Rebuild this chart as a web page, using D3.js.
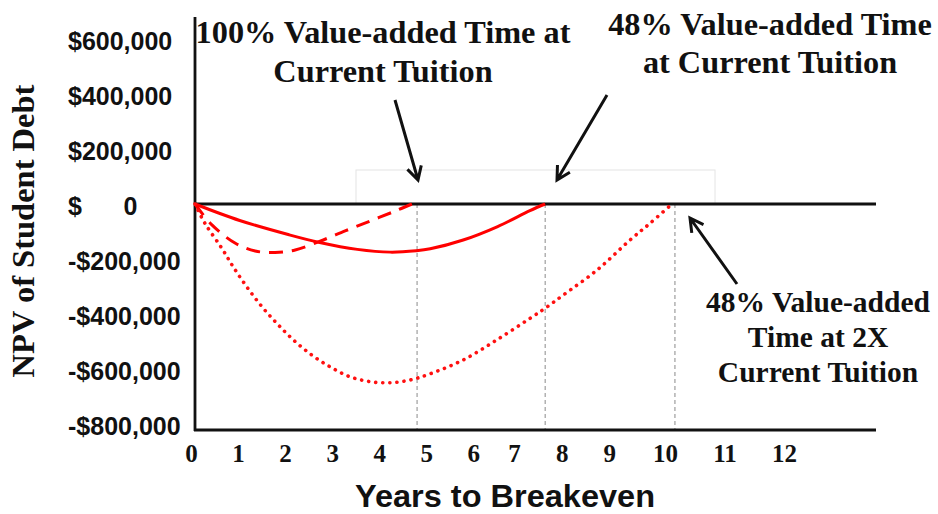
<!DOCTYPE html>
<html lang="en">
<head>
    <meta charset="UTF-8">
    <title>NPV of Student Debt vs Years to Breakeven</title>
    <script src="https://d3js.org/d3.v7.min.js"></script>
    <style>
        body { margin: 0; background: #fff; }
        .serif { font-family: "Liberation Serif", "Times New Roman", serif; font-weight: bold; fill: #111; }
        .sans { font-family: "Liberation Sans", Arial, sans-serif; fill: #111; }
    </style>
</head>
<body>
    <svg width="938" height="514"></svg>
    <script>
        const width = 938, height = 514;

        // data (years, NPV in $)
        const xTicks = [0, 1, 2, 3, 4, 5, 6, 7, 8, 9, 10, 11, 12];
        const yTicks = [600000, 400000, 200000, 0, -200000, -400000, -600000, -800000];

        const solid100 = [[0, 0], [0.95, -60000], [2.0, -112000], [2.65, -140000], [3.45, -165000],
            [4.15, -175000], [4.7, -170000], [5.0, -163000], [5.7, -131000], [6.5, -82000],
            [7.25, -24000], [7.57, 0]];
        const dashed48 = [[0, 0], [0.36, -76000], [0.85, -142000], [1.28, -171000], [1.7, -176000],
            [2.13, -167000], [2.66, -135000], [3.19, -98000], [3.72, -62000], [4.25, -26000], [4.61, 0]];
        const dotted2x = [[0, 0], [0.21, -70000], [0.57, -161000], [0.81, -228000], [1.1, -301000],
            [1.42, -373000], [1.74, -434000], [2.09, -494000], [2.48, -549000], [2.87, -592000],
            [3.29, -628000], [3.72, -646000], [4.14, -650000], [4.57, -640000], [4.99, -618000],
            [5.7, -567000], [6.48, -494000], [7.25, -416000], [7.57, -379000], [7.95, -331000],
            [8.66, -240000], [9.3, -131000], [9.66, -70000], [10.05, 0]];
        const breakevens = [4.72, 7.57, 10.1];

        const svg = d3.select("svg");

        // the original axis is hand-spaced, so a piecewise scale follows its labels
        const x = d3.scaleLinear()
            .domain([0, 6, 7, 9, 10, 12])
            .range([195, 477.3, 518, 613.3, 669, 788]);
        const y = d3.scaleLinear()
            .domain([-800000, 600000])
            .range([424, 39]);

        const plotLeft = 195, plotRight = 876, plotTop = 17, plotBottom = 430;

        // faint box behind the arrows
        svg.append("rect")
            .attr("x", 356).attr("y", 170)
            .attr("width", 359).attr("height", y(0) - 170)
            .attr("fill", "none")
            .attr("stroke", "#e4e4e4")
            .attr("stroke-width", 1);

        // breakeven guide lines
        svg.selectAll(".guide")
            .data(breakevens)
            .join("line")
            .attr("class", "guide")
            .attr("x1", d => x(d)).attr("x2", d => x(d))
            .attr("y1", y(0)).attr("y2", plotBottom)
            .attr("stroke", "#8a8a8a")
            .attr("stroke-width", 1)
            .attr("stroke-dasharray", "4,3");

        // frame and zero line
        svg.append("line")
            .attr("x1", plotLeft).attr("x2", plotLeft).attr("y1", plotTop).attr("y2", plotBottom + 1)
            .attr("stroke", "#111").attr("stroke-width", 2.8);
        svg.append("line")
            .attr("x1", plotLeft - 1).attr("x2", plotRight).attr("y1", plotBottom).attr("y2", plotBottom)
            .attr("stroke", "#111").attr("stroke-width", 2.8);
        svg.append("line")
            .attr("x1", plotLeft).attr("x2", plotRight).attr("y1", y(0)).attr("y2", y(0))
            .attr("stroke", "#111").attr("stroke-width", 3);

        // curves
        const line = d3.line()
            .x(d => x(d[0]))
            .y(d => y(d[1]))
            .curve(d3.curveCatmullRom);

        svg.append("path")
            .datum(solid100)
            .attr("d", line)
            .attr("fill", "none")
            .attr("stroke", "#ff0000")
            .attr("stroke-width", 3);

        svg.append("path")
            .datum(dashed48)
            .attr("d", line)
            .attr("fill", "none")
            .attr("stroke", "#ff0000")
            .attr("stroke-width", 3)
            .attr("stroke-dasharray", "14,9");

        svg.append("path")
            .datum(dotted2x)
            .attr("d", line)
            .attr("fill", "none")
            .attr("stroke", "#ff1010")
            .attr("stroke-width", 3.6)
            .attr("stroke-linecap", "round")
            .attr("stroke-dasharray", "0.1,7");

        // y axis labels (left aligned, like the original)
        const fmt = d3.format(",");
        const yAxis = svg.append("g")
            .attr("transform", `translate(${plotLeft},0)`)
            .call(d3.axisLeft(y)
                .tickValues(yTicks)
                .tickSize(0)
                .tickFormat(v => v > 0 ? "$" + fmt(v) : v < 0 ? "-$" + fmt(-v) : "$\u2007\u2007\u20070"));
        yAxis.select(".domain").remove();
        yAxis.selectAll("text")
            .attr("x", 68 - plotLeft)
            .attr("dy", "0.42em")
            .attr("text-anchor", "start")
            .style("fill", "#111")
            .style("font-size", "25px")
            .style("font-weight", "bold")
            .style("font-family", "'Liberation Sans', Arial, sans-serif");

        // x axis labels
        const xAxis = svg.append("g")
            .attr("transform", `translate(-4,${plotBottom})`)
            .call(d3.axisBottom(x).tickValues(xTicks).tickSize(0).tickFormat(d3.format("d")));
        xAxis.select(".domain").remove();
        xAxis.selectAll("text")
            .attr("y", 32)
            .attr("dy", 0)
            .style("fill", "#111")
            .style("font-size", "25px")
            .style("font-weight", "bold")
            .style("font-family", "'Liberation Serif', 'Times New Roman', serif");

        // axis titles
        svg.append("text")
            .attr("class", "sans")
            .attr("x", 505).attr("y", 507)
            .attr("text-anchor", "middle")
            .attr("textLength", 300)
            .attr("lengthAdjust", "spacingAndGlyphs")
            .style("font-size", "31px")
            .style("font-weight", "bold")
            .text("Years to Breakeven");

        svg.append("text")
            .attr("class", "serif")
            .attr("transform", "translate(34,231) rotate(-90)")
            .attr("text-anchor", "middle")
            .style("font-size", "32.5px")
            .text("NPV of Student Debt");

        // annotations
        const notes = [
            { lines: ["100% Value-added Time at", "Current Tuition"], cx: 383, y0: 43, lh: 39, size: 32.3 },
            { lines: ["48% Value-added Time", "at Current Tuition"], cx: 770, y0: 35, lh: 38, size: 32.3 },
            { lines: ["48% Value-added", "Time at 2X", "Current Tuition"], cx: 818, y0: 312, lh: 35, size: 29.5 }
        ];
        notes.forEach(n => {
            n.lines.forEach((t, i) => {
                svg.append("text")
                    .attr("class", "serif")
                    .attr("x", n.cx)
                    .attr("y", n.y0 + i * n.lh)
                    .attr("text-anchor", "middle")
                    .style("font-size", n.size + "px")
                    .text(t);
            });
        });

        const arrows = [
            { from: [395, 100], to: [418, 180] },
            { from: [607, 95], to: [557, 180] },
            { from: [737, 284], to: [690, 218] }
        ];
        arrows.forEach(a => {
            const ang = Math.atan2(a.to[1] - a.from[1], a.to[0] - a.from[0]);
            const len = 15, spread = 0.5;
            const h1 = [a.to[0] - len * Math.cos(ang - spread), a.to[1] - len * Math.sin(ang - spread)];
            const h2 = [a.to[0] - len * Math.cos(ang + spread), a.to[1] - len * Math.sin(ang + spread)];
            svg.append("path")
                .attr("d", `M${a.from}L${a.to}M${h1}L${a.to}L${h2}`)
                .attr("fill", "none")
                .attr("stroke", "#111")
                .attr("stroke-width", 3)
                .attr("stroke-linejoin", "miter");
        });
    </script>
</body>
</html>
